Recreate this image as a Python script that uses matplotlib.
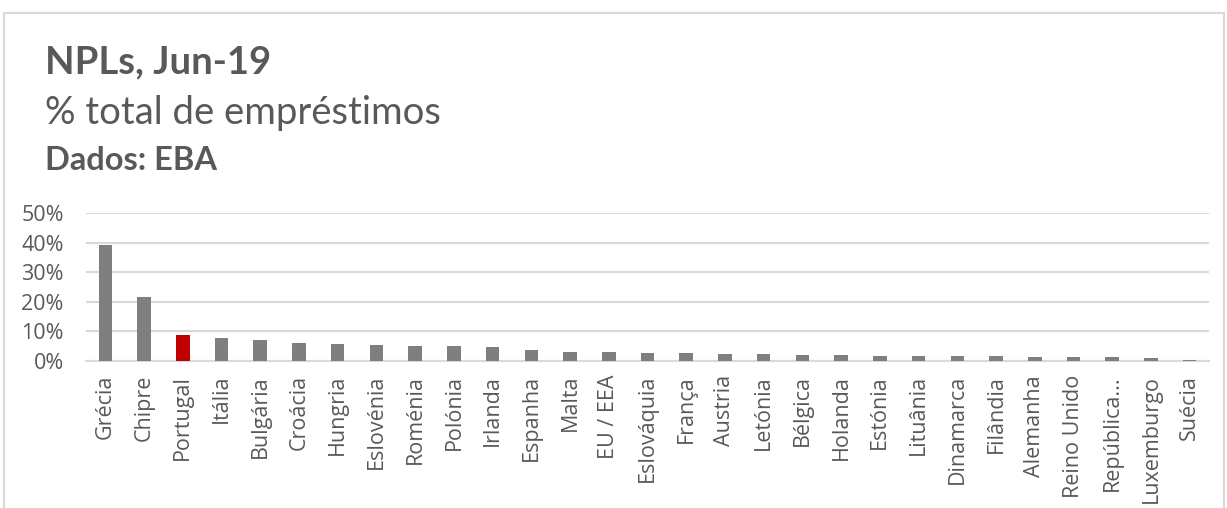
import matplotlib
matplotlib.use("Agg")
import matplotlib.pyplot as plt
from matplotlib.patches import Rectangle
from matplotlib.ticker import PercentFormatter

# NPL ratio, % of total loans (EBA, Jun-19)
countries = ["Grécia", "Chipre", "Portugal", "Itália", "Bulgária", "Croácia",
             "Hungria", "Eslovénia", "Roménia", "Polónia", "Irlanda", "Espanha",
             "Malta", "EU / EEA", "Eslováquia", "França", "Austria", "Letónia",
             "Bélgica", "Holanda", "Estónia", "Lituânia", "Dinamarca", "Filândia",
             "Alemanha", "Reino Unido", "República...", "Luxemburgo", "Suécia"]
npl = [39.1, 21.6, 8.9, 7.8, 7.2, 6.2, 5.6, 5.3, 5.0, 4.9, 4.6, 3.6,
       3.1, 3.1, 2.7, 2.7, 2.5, 2.2, 2.0, 2.0, 1.8, 1.8, 1.8, 1.6,
       1.3, 1.3, 1.3, 1.1, 0.4]
highlight = "Portugal"
y_ticks = [0, 10, 20, 30, 40, 50]

GREY_BAR = "#7f7f7f"
RED_BAR = "#c00000"
TEXT = "#595959"
GRID = "#d9d9d9"

fig = plt.figure(figsize=(12.27, 5.08), dpi=100)

# light frame around the chart (bottom edge runs off the image)
fig.patches.append(Rectangle((4 / 1227, -0.05), 1220 / 1227, 1.05 - 13 / 508,
                             transform=fig.transFigure, fill=False,
                             edgecolor=GRID, linewidth=1.5))

fig.text(45 / 1227, 1 - 62 / 508, "NPLs, Jun-19", fontfamily="Lato",
         fontweight="bold", fontsize=27.5, color=TEXT, va="center")
fig.text(45 / 1227, 1 - 113 / 508, "% total de empréstimos", fontfamily="Lato",
         fontsize=27.5, color=TEXT, va="center")
fig.text(45 / 1227, 1 - 160 / 508, "Dados: EBA", fontfamily="Lato",
         fontweight="bold", fontsize=23.5, color=TEXT, va="center")

ax = fig.add_axes([86 / 1227, 1 - 361 / 508, 1123 / 1227, 148 / 508])
colors = [RED_BAR if c == highlight else GREY_BAR for c in countries]
x = range(len(countries))
ax.bar(x, npl, width=0.35, color=colors, zorder=3)

ax.set_xlim(-0.5, len(countries) - 0.5)
ax.set_ylim(0, 50)
ax.set_yticks(y_ticks)
ax.yaxis.set_major_formatter(PercentFormatter(decimals=0))
ax.set_xticks(list(x))
ax.set_xticklabels(countries, rotation=90, fontfamily="Open Sans", fontsize=15.5,
                   color=TEXT)
for lbl in ax.get_yticklabels():
    lbl.set_fontfamily("Open Sans")
    lbl.set_fontsize(15.5)
    lbl.set_color(TEXT)

ax.grid(axis="y", color=GRID, linewidth=1.5, zorder=0)
ax.tick_params(axis="x", length=0, pad=10)
ax.tick_params(axis="y", length=0, pad=16)
for side in ["top", "right", "left"]:
    ax.spines[side].set_visible(False)
ax.spines["bottom"].set_color(GRID)
ax.spines["bottom"].set_linewidth(1.5)

fig.savefig("out.png", dpi=100)
